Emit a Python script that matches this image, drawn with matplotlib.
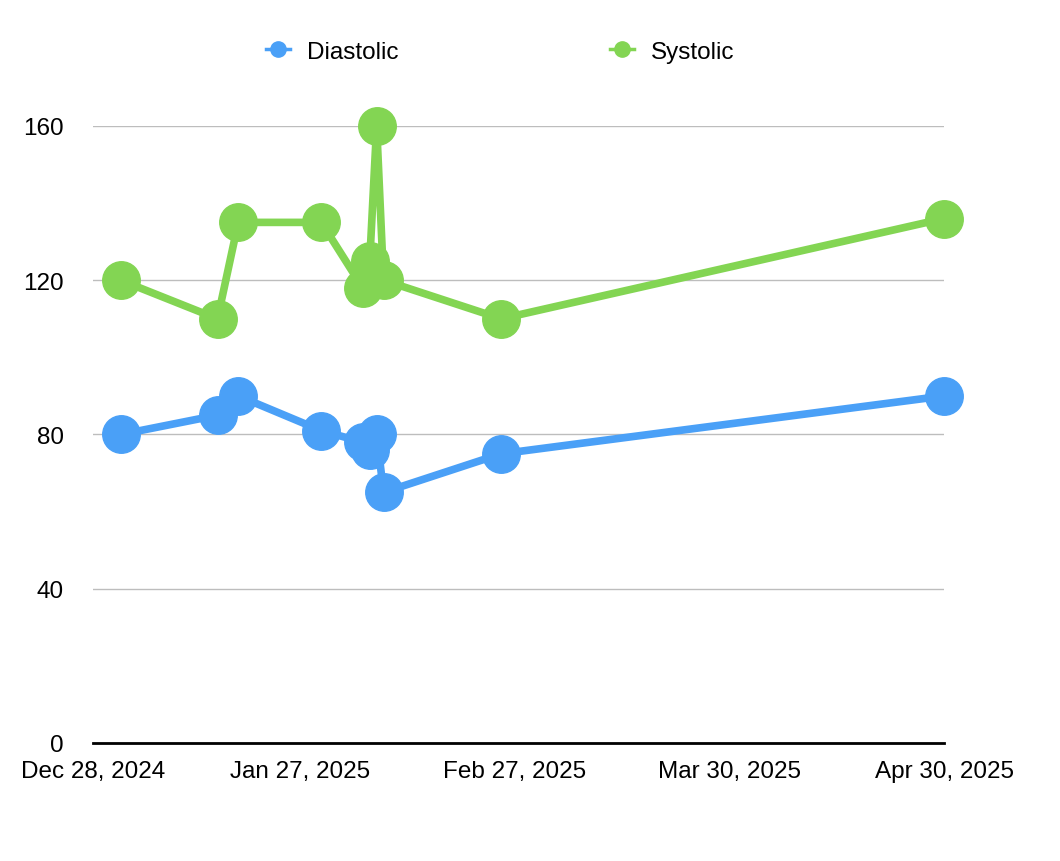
import matplotlib.pyplot as plt
from matplotlib.lines import Line2D
import pandas as pd

plt.rcParams["font.family"] = ["Liberation Sans", "DejaVu Sans"]

# Readings
dates = pd.to_datetime([
    "2025-01-01", "2025-01-15", "2025-01-18", "2025-01-30", "2025-02-05",
    "2025-02-06", "2025-02-07", "2025-02-08", "2025-02-25", "2025-04-30",
])
diastolic = [80, 85, 90, 81, 78, 76, 80, 65, 75, 90]
systolic = [120, 110, 135, 135, 118, 125, 160, 120, 110, 136]

tick_dates = pd.to_datetime(["2024-12-28", "2025-01-27", "2025-02-27", "2025-03-30", "2025-04-30"])
tick_labels = ["Dec 28, 2024", "Jan 27, 2025", "Feb 27, 2025", "Mar 30, 2025", "Apr 30, 2025"]

blue = "#4aa0f7"
green = "#83d553"

fig = plt.figure(figsize=(10.6, 8.62), dpi=100)
ax = fig.add_axes([0.0877, 0.1369, 0.8029, 0.7158])

ax.plot(dates, diastolic, color=blue, lw=5.5, marker="o", ms=27, clip_on=False, zorder=3)
ax.plot(dates, systolic, color=green, lw=5.5, marker="o", ms=27, clip_on=False, zorder=3)

ax.set_xlim(tick_dates[0], tick_dates[-1])
ax.set_ylim(0, 160)
ax.set_yticks([0, 40, 80, 120, 160])
ax.set_xticks(tick_dates)
ax.set_xticklabels(tick_labels)
ax.tick_params(axis="both", length=0, labelsize=17.5)
ax.tick_params(axis="y", pad=21)
ax.tick_params(axis="x", pad=12)
ax.grid(axis="y", color="#bdbdbd", lw=1)
ax.set_axisbelow(True)
for s in ["top", "right", "left"]:
    ax.spines[s].set_visible(False)
ax.spines["bottom"].set_linewidth(2)
ax.spines["bottom"].set_zorder(4)

handles = [
    Line2D([], [], color=blue, lw=2.5, marker="o", ms=11),
    Line2D([], [], color=green, lw=2.5, marker="o", ms=11),
]
fig.legend(handles, ["Diastolic", "Systolic"], loc="center", bbox_to_anchor=(0.472, 0.939),
           ncol=2, frameon=False, fontsize=17.5, handlelength=1.0, columnspacing=8.7,
           handletextpad=0.7)

fig.savefig("out.png", dpi=100)
